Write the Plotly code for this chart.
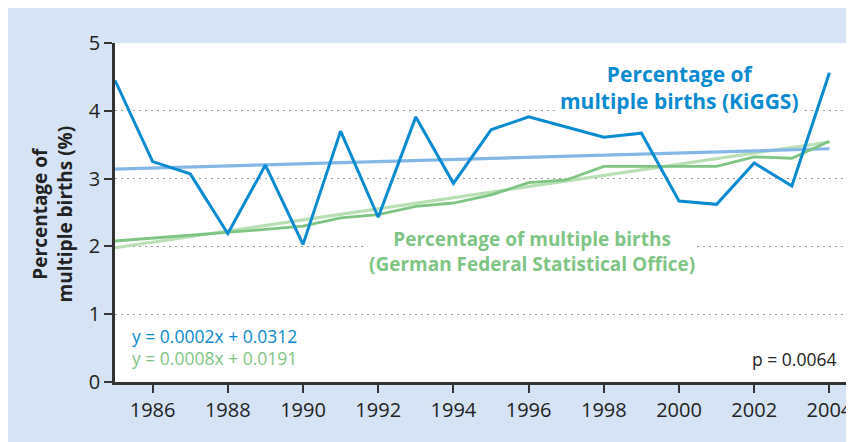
import plotly.graph_objects as go

years = list(range(1985, 2005))
kiggs = [4.45, 3.25, 3.07, 2.19, 3.20, 2.03, 3.70, 2.43, 3.91, 2.93,
         3.72, 3.91, 3.76, 3.61, 3.67, 2.67, 2.62, 3.23, 2.89, 4.56]
destatis = [2.08, 2.12, 2.16, 2.20, 2.25, 2.30, 2.42, 2.47, 2.59, 2.64,
            2.76, 2.94, 2.98, 3.18, 3.18, 3.18, 3.18, 3.32, 3.30, 3.55]
trend_years = [1985, 2004]
kiggs_trend = [3.14, 3.44]
destatis_trend = [1.98, 3.54]
x_ticks = list(range(1986, 2005, 2))
y_ticks = [0, 1, 2, 3, 4, 5]

BLUE = "#0a8ad0"
BLUE_TREND = "#85b8e6"
GREEN = "#7ec584"
GREEN_TREND = "#b8e0b4"
BG = "#d5e3f5"
FONT = "Open Sans"

fig = go.Figure()
fig.add_trace(go.Scatter(x=trend_years, y=destatis_trend, mode="lines",
                         line=dict(color=GREEN_TREND, width=3.2), hoverinfo="skip"))
fig.add_trace(go.Scatter(x=trend_years, y=kiggs_trend, mode="lines",
                         line=dict(color=BLUE_TREND, width=3.2), hoverinfo="skip"))
fig.add_trace(go.Scatter(x=years, y=destatis, mode="lines",
                         line=dict(color=GREEN, width=2.8)))
fig.add_trace(go.Scatter(x=years, y=kiggs, mode="lines",
                         line=dict(color=BLUE, width=3)))

fig.update_layout(
    width=854, height=442,
    margin=dict(l=107, r=10, t=35, b=68, autoexpand=False),
    paper_bgcolor=BG, plot_bgcolor="white",
    showlegend=False,
    font=dict(family=FONT, color="#222"),
    xaxis=dict(range=[1985, 2004.6], tickvals=x_ticks, ticks="outside", ticklen=8,
               tickwidth=2, tickcolor="#333", showline=True, linecolor="#333",
               linewidth=2.5, showgrid=False, zeroline=False,
               tickfont=dict(size=20, family=FONT, color="#222")),
    yaxis=dict(range=[0, 5], tickvals=y_ticks, ticks="outside", ticklen=8,
               tickwidth=2, tickcolor="#333", showline=True, linecolor="#333",
               linewidth=2.5, showgrid=True, gridcolor="#9a9a9a", griddash="2px,4px",
               gridwidth=1.2, zeroline=False,
               tickfont=dict(size=20, family=FONT, color="#222")),
    annotations=[
        dict(x=-0.0836, y=0.4956, xref="paper", yref="paper", textangle=-90,
             xanchor="center", yanchor="middle",
             text="<b>Percentage of<br>multiple births (%)</b>", showarrow=False,
             font=dict(size=19, color="#222", family=FONT), align="center"),
        dict(x=2000.0, y=4.34, xref="x", yref="y",
             text="<b>Percentage of<br>multiple births (KiGGS)</b>", showarrow=False,
             font=dict(size=21, color=BLUE, family=FONT), bgcolor="white", align="center"),
        dict(x=1996.1, y=1.92, xref="x", yref="y",
             text="<b>Percentage of multiple births<br>(German Federal Statistical Office)</b>",
             showarrow=False, font=dict(size=19, color=GREEN, family=FONT),
             bgcolor="white", align="center"),
        dict(x=1985.41, y=0.68, xref="x", yref="y", xanchor="left",
             text="y = 0.0002x + 0.0312", showarrow=False,
             font=dict(size=17.5, color=BLUE, family=FONT)),
        dict(x=1985.41, y=0.355, xref="x", yref="y", xanchor="left",
             text="y = 0.0008x + 0.0191", showarrow=False,
             font=dict(size=17.5, color=GREEN, family=FONT)),
        dict(x=2004.24, y=0.34, xref="x", yref="y", xanchor="right",
             text="p = 0.0064", showarrow=False,
             font=dict(size=17.5, color="#222", family=FONT)),
    ],
)

fig.write_html("out.html")
